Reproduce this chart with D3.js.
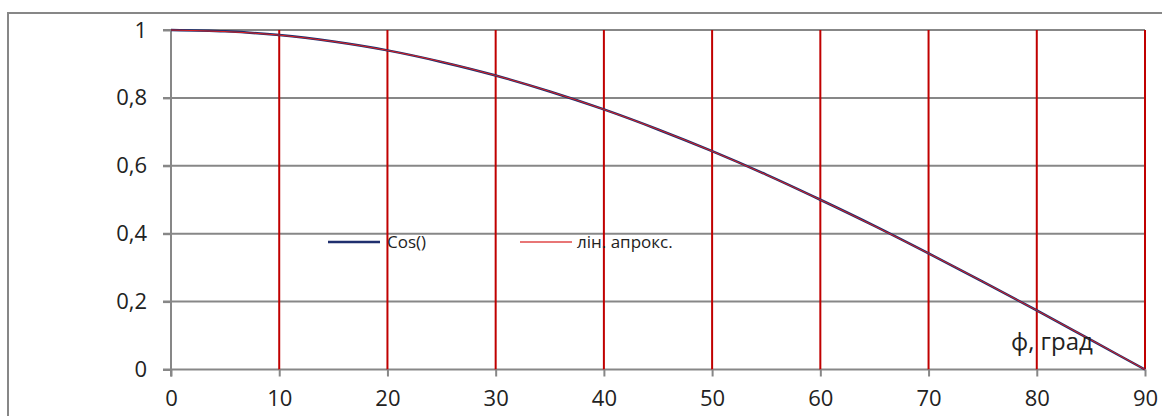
<!DOCTYPE html>
<html>
<head>
<meta charset="utf-8">
<script src="https://cdn.jsdelivr.net/npm/d3@7"></script>
<style>
  body { margin: 0; background: #fff; }
  svg { display: block; font-family: "Open Sans", sans-serif; }
</style>
</head>
<body>
<div class="wrapper"></div>
<script>
const w = 1162
const h = 416

// angle, degrees
const angles = [0, 5, 10, 15, 20, 25, 30, 35, 40, 45, 50, 55, 60, 65, 70, 75, 80, 85, 90]
// Cos() curve
const cosValues = [1, 0.996, 0.985, 0.966, 0.94, 0.906, 0.866, 0.819, 0.766, 0.707, 0.643, 0.574, 0.5, 0.423, 0.342, 0.259, 0.174, 0.087, 0]
// linear approximation
const approxAngles = [0, 10, 20, 30, 40, 50, 60, 70, 80, 90]
const approxValues = [1, 0.985, 0.94, 0.866, 0.766, 0.643, 0.5, 0.342, 0.174, 0]
const xTicks = [0, 10, 20, 30, 40, 50, 60, 70, 80, 90]
const yTicks = [0, 0.2, 0.4, 0.6, 0.8, 1]
const seriesNames = ["Cos()", "лін. апрокс."]
const xTitle = "ф, град"

const xScale = d3.scaleLinear().domain([0, 90]).range([171, 1145])
const yScale = d3.scaleLinear().domain([0, 1]).range([369.5, 30])
const fmt = (d) => String(d).replace(".", ",")

const svg = d3.select(".wrapper")
  .append("svg")
  .attr("width", w)
  .attr("height", h)

// outer frame
svg.append("rect")
  .attr("x", 8)
  .attr("y", 13)
  .attr("width", 1170)
  .attr("height", 420)
  .attr("fill", "none")
  .attr("stroke", "#878787")
  .attr("stroke-width", 2)

// horizontal grid
svg.append("g")
  .selectAll("line")
  .data(yTicks)
  .enter()
  .append("line")
  .attr("x1", xScale(0) - 8)
  .attr("x2", xScale(90))
  .attr("y1", (d) => yScale(d))
  .attr("y2", (d) => yScale(d))
  .attr("stroke", "#878787")
  .attr("stroke-width", 2)

// vertical grid (red)
svg.append("g")
  .selectAll("line")
  .data(xTicks.slice(1))
  .enter()
  .append("line")
  .attr("x1", (d) => xScale(d))
  .attr("x2", (d) => xScale(d))
  .attr("y1", yScale(1))
  .attr("y2", yScale(0))
  .attr("stroke", "#c00000")
  .attr("stroke-width", 2)

// y axis
const yAxis = d3.axisLeft(yScale).tickValues(yTicks).tickFormat(fmt).tickSize(8).tickPadding(16)
const gy = svg.append("g")
  .attr("transform", "translate(" + xScale(0) + ", 0)")
  .call(yAxis)
gy.select(".domain").attr("stroke", "#878787").attr("stroke-width", 2).attr("d", "M0," + yScale(1) + "V" + (yScale(0) + 7))
gy.selectAll(".tick line").attr("stroke", "#878787").attr("stroke-width", 2)
gy.selectAll("text").attr("font-size", 22).attr("fill", "#222").attr("font-family", "Open Sans")

// x axis
const xAxis = d3.axisBottom(xScale).tickValues(xTicks).tickSize(7).tickPadding(14)
const gx = svg.append("g")
  .attr("transform", "translate(0, " + yScale(0) + ")")
  .call(xAxis)
gx.select(".domain").remove()
gx.selectAll(".tick line").attr("stroke", "#878787").attr("stroke-width", 2)
gx.selectAll("text").attr("font-size", 22).attr("fill", "#222").attr("font-family", "Open Sans")

// curves
const line = d3.line().x((d) => xScale(d[0])).y((d) => yScale(d[1])).curve(d3.curveMonotoneX)
svg.append("path")
  .datum(angles.map((a, i) => [a, cosValues[i]]))
  .attr("d", line)
  .attr("fill", "none")
  .attr("stroke", "#1f2f6e")
  .attr("stroke-width", 2.5)

svg.append("path")
  .datum(approxAngles.map((a, i) => [a, approxValues[i]]))
  .attr("d", line)
  .attr("fill", "none")
  .attr("stroke", "#e02020")
  .attr("stroke-width", 1)

// legend
const legend = [
  { name: seriesNames[0], color: "#1f2f6e", width: 2.5, x: 328 },
  { name: seriesNames[1], color: "#e04848", width: 1.5, x: 520 }
]
const lg = svg.append("g")
  .selectAll("g")
  .data(legend)
  .enter()
  .append("g")
  .attr("transform", (d) => "translate(" + d.x + ", 242)")
lg.append("line")
  .attr("x1", 0)
  .attr("x2", 52)
  .attr("stroke", (d) => d.color)
  .attr("stroke-width", (d) => d.width)
lg.append("text")
  .attr("x", (d, i) => i === 0 ? 59 : 57)
  .attr("y", 6)
  .attr("font-size", 17)
  .attr("fill", "#222")
  .text((d) => d.name)

// axis title
svg.append("text")
  .attr("x", 1011)
  .attr("y", 350)
  .attr("font-size", 24)
  .attr("fill", "#222")
  .text(xTitle)
</script>
</body>
</html>
